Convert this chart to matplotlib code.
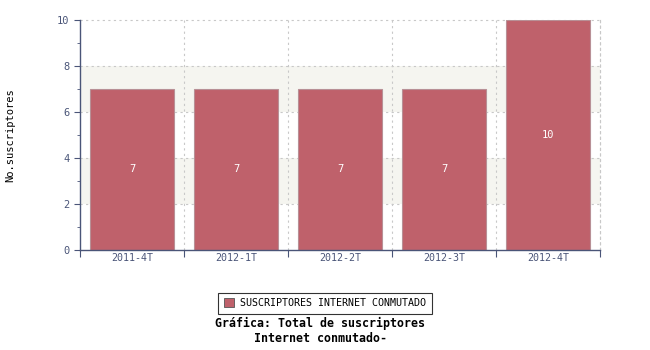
import matplotlib
matplotlib.use("Agg")
import matplotlib.pyplot as plt
from matplotlib.patches import Patch
import numpy as np

categories = ["2011-4T", "2012-1T", "2012-2T", "2012-3T", "2012-4T"]
values = [7, 7, 7, 7, 10]
series_name = "SUSCRIPTORES INTERNET CONMUTADO"
y_label = "No.suscriptores"
title = "Gráfica: Total de suscriptores\nInternet conmutado-"

axis_col = "#4a5578"
bar_col = "#bf616b"
mono = "DejaVu Sans Mono"

fig = plt.figure(figsize=(6.5, 3.5), dpi=100)
ax = fig.add_axes([80/650, 1-250/350, 520/650, 230/350])

x = np.arange(len(categories))
ax.set_xlim(-0.5, len(categories) - 0.5)
ax.set_ylim(0, 10)

# background bands
for lo, hi in [(2, 4), (6, 8)]:
    ax.axhspan(lo, hi, color="#f5f5f0", zorder=0, lw=0)

# grid
for yv in [2, 4, 6, 8, 10]:
    ax.axhline(yv, color="#c8c8c8", ls=(0, (2, 3)), lw=0.8, zorder=1, clip_on=False)
for xv in np.arange(0.5, len(categories), 1.0):
    ax.axvline(xv, color="#c8c8c8", ls=(0, (2, 3)), lw=0.8, zorder=1, clip_on=False)

bars = ax.bar(x, values, width=0.81, color=bar_col, edgecolor="#b89096", lw=0.8, zorder=2)
for xi, v in zip(x, values):
    ax.text(xi, v / 2, str(v), color="white", ha="center", va="center",
            fontsize=7.5, family=mono, zorder=3)

for s in ["top", "left", "bottom"]:
    pass
ax.spines["top"].set_visible(False)
ax.spines["right"].set_color("#c8c8c8")
ax.spines["right"].set_linestyle((0, (2, 3)))
ax.spines["right"].set_linewidth(0.8)
for s in ["left", "bottom"]:
    ax.spines[s].set_color(axis_col)
    ax.spines[s].set_linewidth(1.0)

ax.set_yticks([0, 2, 4, 6, 8, 10])
ax.set_yticks([1, 3, 5, 7, 9], minor=True)
ax.tick_params(axis="y", which="major", direction="out", length=4, color=axis_col,
               labelcolor=axis_col, labelsize=7.5)
ax.tick_params(axis="y", which="minor", direction="out", length=2, color=axis_col)
for lab in ax.get_yticklabels():
    lab.set_family(mono)

ax.set_xticks(np.arange(-0.5, len(categories), 1.0))
ax.set_xticklabels([])
ax.set_xticks(x, minor=True)
ax.set_xticklabels(categories, minor=True)
ax.tick_params(axis="x", which="major", direction="out", length=5, color=axis_col)
ax.tick_params(axis="x", which="minor", length=0, pad=2, labelcolor=axis_col, labelsize=7.2)
for lab in ax.get_xticklabels(minor=True):
    lab.set_family(mono)

fig.text(10/650, 1-135/350, y_label, rotation=90, ha="center", va="center",
         fontsize=7.5, family=mono, color="black")

leg = fig.legend(handles=[Patch(facecolor=bar_col, edgecolor="#555555", lw=0.6, label=series_name)],
                 loc="center", bbox_to_anchor=(325/650, 1-303/350), frameon=True,
                 fancybox=False, prop={"family": mono, "size": 7.2},
                 handlelength=1.0, handleheight=1.0, handletextpad=0.7, borderpad=0.55,
                 borderaxespad=0)
leg.get_frame().set_edgecolor("black")
leg.get_frame().set_linewidth(0.8)

fig.text(320/650, 1-331/350, title, ha="center", va="center", fontsize=8.4,
         family=mono, weight="bold", linespacing=1.25)

fig.savefig("out.png", dpi=100)
